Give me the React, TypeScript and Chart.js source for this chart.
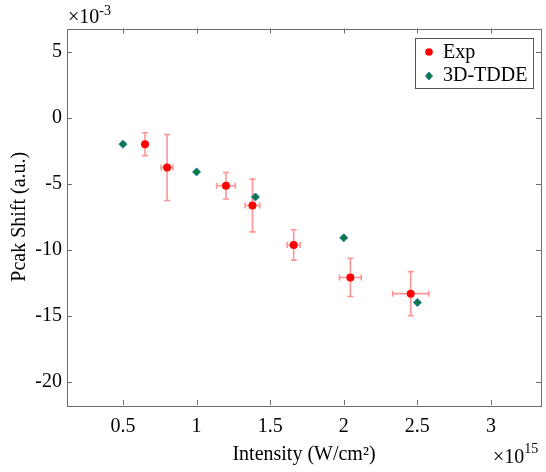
import React, { useEffect, useRef } from 'react';
import { Chart, registerables } from 'chart.js';
Chart.register(...registerables);

const expX = [0.65, 0.8, 1.2, 1.38, 1.66, 2.045, 2.455];
const expY = [-2.0, -3.77, -5.15, -6.65, -9.64, -12.1, -13.33];
const expYErr = [0.87, 2.5, 1.0, 2.0, 1.15, 1.45, 1.67];
const expXErr = [0, 0.04, 0.063, 0.05, 0.044, 0.074, 0.123];
const tddeX = [0.5, 1.0, 1.4, 2.0, 2.5];
const tddeY = [-2.0, -4.1, -6.0, -9.1, -14.0];
const xTicks = [0.5, 1, 1.5, 2, 2.5, 3];
const yTicks = [5, 0, -5, -10, -15, -20];
const seriesLabels = ['Exp', '3D-TDDE'];

const FONT = "'Liberation Serif', 'Times New Roman', serif";
const AXIS = '#6e6e6e';
const FS = 20;

const errorBarPlugin = {
  id: 'errorBars',
  beforeDatasetsDraw(chart: any) {
    const { ctx, scales } = chart;
    const xs = scales.x, ys = scales.y;
    ctx.save();
    ctx.strokeStyle = 'rgba(255,60,60,0.55)';
    ctx.lineWidth = 1.6;
    const cap = 3;
    expX.forEach((xv, i) => {
      const px = xs.getPixelForValue(xv);
      const py = ys.getPixelForValue(expY[i]);
      const yt = ys.getPixelForValue(expY[i] + expYErr[i]);
      const yb = ys.getPixelForValue(expY[i] - expYErr[i]);
      ctx.beginPath();
      ctx.moveTo(px, yt); ctx.lineTo(px, yb);
      ctx.moveTo(px - cap, yt); ctx.lineTo(px + cap, yt);
      ctx.moveTo(px - cap, yb); ctx.lineTo(px + cap, yb);
      ctx.stroke();
      if (expXErr[i] > 0) {
        const xl = xs.getPixelForValue(xv - expXErr[i]);
        const xr = xs.getPixelForValue(xv + expXErr[i]);
        ctx.beginPath();
        ctx.moveTo(xl, py); ctx.lineTo(xr, py);
        ctx.moveTo(xl, py - cap); ctx.lineTo(xl, py + cap);
        ctx.moveTo(xr, py - cap); ctx.lineTo(xr, py + cap);
        ctx.stroke();
      }
    });
    ctx.restore();
  },
};

const framePlugin = {
  id: 'frame',
  afterDraw(chart: any) {
    const { ctx, chartArea: a, scales } = chart;
    ctx.save();
    ctx.strokeStyle = AXIS;
    ctx.lineWidth = 1;
    ctx.strokeRect(Math.round(a.left) + 0.5, Math.round(a.top) + 0.5, Math.round(a.right - a.left), Math.round(a.bottom - a.top));
    const tl = 5;
    ctx.beginPath();
    xTicks.forEach((v) => {
      const px = Math.round(scales.x.getPixelForValue(v)) + 0.5;
      ctx.moveTo(px, a.bottom); ctx.lineTo(px, a.bottom - tl);
      ctx.moveTo(px, a.top); ctx.lineTo(px, a.top + tl);
    });
    yTicks.forEach((v) => {
      const py = Math.round(scales.y.getPixelForValue(v)) + 0.5;
      ctx.moveTo(a.left, py); ctx.lineTo(a.left + tl, py);
      ctx.moveTo(a.right, py); ctx.lineTo(a.right - tl, py);
    });
    ctx.stroke();

    // exponent labels
    ctx.fillStyle = '#000';
    ctx.textBaseline = 'alphabetic';
    ctx.textAlign = 'left';
    ctx.font = `${FS}px ${FONT}`;
    ctx.fillText('\u00d710', a.left + 1, 23);
    let w = ctx.measureText('\u00d710').width;
    ctx.font = `14px ${FONT}`;
    ctx.fillText('-3', a.left + 1 + w, 15);
    ctx.font = `${FS}px ${FONT}`;
    ctx.fillText('\u00d710', 493, 463);
    w = ctx.measureText('\u00d710').width;
    ctx.font = `14px ${FONT}`;
    ctx.fillText('15', 493 + w, 453);

    // legend
    const lx = 415.5, ly = 38.5, lw = 118, lh = 50;
    ctx.fillStyle = '#fff';
    ctx.fillRect(lx, ly, lw, lh);
    ctx.strokeStyle = '#555';
    ctx.strokeRect(lx, ly, lw, lh);
    ctx.font = `${FS}px ${FONT}`;
    ctx.textBaseline = 'middle';
    ctx.fillStyle = '#000';
    ctx.fillText(chart.data.datasets[0].label, 443, 53);
    ctx.fillText(chart.data.datasets[1].label, 443, 76);
    ctx.fillStyle = '#ff0000';
    ctx.beginPath();
    ctx.arc(429, 52, 3.8, 0, Math.PI * 2);
    ctx.fill();
    ctx.fillStyle = '#0b7a3a';
    ctx.strokeStyle = '#1f77b4';
    ctx.lineWidth = 1;
    ctx.beginPath();
    ctx.moveTo(429, 72); ctx.lineTo(432.5, 76); ctx.lineTo(429, 80); ctx.lineTo(425.5, 76); ctx.closePath();
    ctx.fill(); ctx.stroke();
    ctx.restore();
  },
};

export default function App() {
  const ref = useRef<HTMLCanvasElement | null>(null);
  useEffect(() => {
    if (!ref.current) return;
    Chart.defaults.font.family = FONT;
    Chart.defaults.color = '#000';
    const chart = new Chart(ref.current, {
      type: 'scatter',
      data: {
        datasets: [
          {
            label: seriesLabels[0],
            data: expX.map((x, i) => ({ x, y: expY[i] })),
            pointStyle: 'circle',
            pointRadius: 4,
            backgroundColor: '#ff0000',
            borderColor: '#ff0000',
            borderWidth: 0,
          },
          {
            label: seriesLabels[1],
            data: tddeX.map((x, i) => ({ x, y: tddeY[i] })),
            pointStyle: 'rectRot',
            pointRadius: 4,
            backgroundColor: '#0b7a3a',
            borderColor: '#1f77b4',
            borderWidth: 1,
          },
        ],
      },
      options: {
        responsive: false,
        animation: false,
        layout: { padding: { left: 0, right: 3, top: 28.5, bottom: 0 } },
        plugins: { legend: { display: false }, tooltip: { enabled: false } },
        scales: {
          x: {
            type: 'linear',
            min: 0.12,
            max: 3.34,
            afterBuildTicks: (s: any) => { s.ticks = xTicks.map((v) => ({ value: v })); },
            afterFit: (s: any) => { s.height = 67; },
            grid: { display: false, drawTicks: false },
            border: { display: false },
            ticks: { font: { size: FS }, padding: 10, maxRotation: 0, autoSkip: false, callback: (v: any) => String(v) },
            title: { display: true, text: 'Intensity (W/cm\u00b2)', font: { size: FS }, padding: { top: 0, bottom: 5 } },
          },
          y: {
            type: 'linear',
            min: -21.77,
            max: 6.77,
            afterBuildTicks: (s: any) => { s.ticks = yTicks.map((v) => ({ value: v })); },
            afterFit: (s: any) => { s.width = 67; },
            grid: { display: false, drawTicks: false },
            border: { display: false },
            ticks: { font: { size: FS }, padding: 5, autoSkip: false, callback: (v: any) => String(v) },
            title: { display: true, text: 'Pcak Shift (a.u.)', font: { size: FS }, padding: { top: 7.5, bottom: 0 } },
          },
        },
      },
      plugins: [errorBarPlugin, framePlugin],
    } as any);
    return () => chart.destroy();
  }, []);
  return (
    <div style={{ position: 'absolute', left: 0, top: 0, width: 546, height: 472, background: '#fff' }}>
      <canvas ref={ref} width={546} height={472} />
    </div>
  );
}
